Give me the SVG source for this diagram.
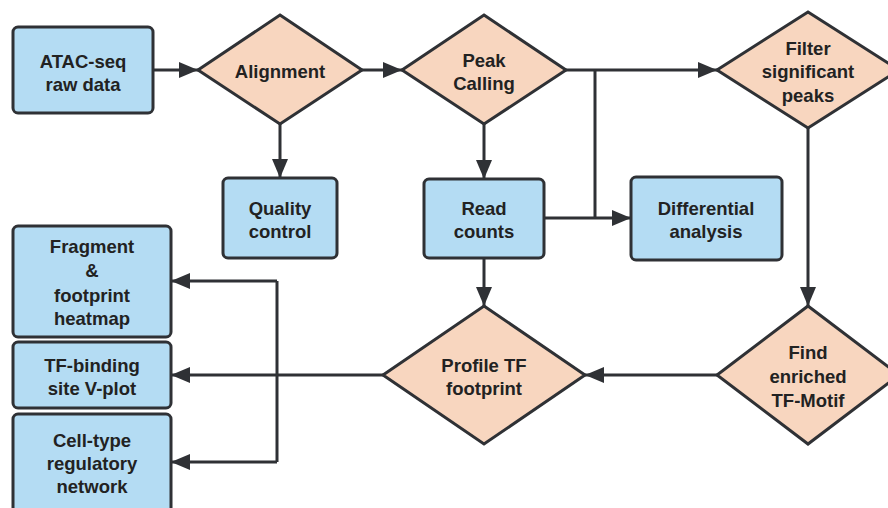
<svg xmlns="http://www.w3.org/2000/svg" width="888" height="508" viewBox="0 0 888 508">
  <defs>
    <marker id="arrow" markerUnits="userSpaceOnUse" markerWidth="20" markerHeight="16" refX="19" refY="8" orient="auto">
      <path d="M0,0 L19,8 L0,16 Z" fill="#2f3135"/>
    </marker>
    <style>
      .box { fill: #b4dcf3; stroke: #2f3135; stroke-width: 3; }
      .dia { fill: #f8d6bf; stroke: #2f3135; stroke-width: 3; stroke-linejoin: miter; }
      .lbl { font-family: "Liberation Sans", Arial, sans-serif; font-weight: bold; font-size: 18.5px; fill: #222; text-anchor: middle; }
      .edge { fill: none; stroke: #2f3135; stroke-width: 3; }
    </style>
  </defs>
  <rect width="888" height="508" fill="#ffffff"/>

  <!-- connectors -->
  <g id="connectors">
    <line class="edge" x1="153" y1="70" x2="198" y2="70" marker-end="url(#arrow)"/>
    <line class="edge" x1="362" y1="70" x2="402" y2="70" marker-end="url(#arrow)"/>
    <line class="edge" x1="280" y1="124" x2="280" y2="178" marker-end="url(#arrow)"/>
    <line class="edge" x1="566" y1="70" x2="717" y2="70" marker-end="url(#arrow)"/>
    <line class="edge" x1="484" y1="124" x2="484" y2="179" marker-end="url(#arrow)"/>
    <polyline class="edge" points="595,70 595,218"/>
    <line class="edge" x1="544" y1="218" x2="631" y2="218" marker-end="url(#arrow)"/>
    <line class="edge" x1="808" y1="128" x2="808" y2="306" marker-end="url(#arrow)"/>
    <line class="edge" x1="484" y1="258" x2="484" y2="306" marker-end="url(#arrow)"/>
    <line class="edge" x1="717" y1="375" x2="585" y2="375" marker-end="url(#arrow)"/>
    <line class="edge" x1="383" y1="375" x2="171" y2="375" marker-end="url(#arrow)"/>
    <polyline class="edge" points="277,281 277,462"/>
    <line class="edge" x1="277" y1="281" x2="171" y2="281" marker-end="url(#arrow)"/>
    <line class="edge" x1="277" y1="462" x2="171" y2="462" marker-end="url(#arrow)"/>
  </g>

  <!-- nodes -->
  <g id="atac-raw">
    <rect class="box" x="13" y="27" width="140" height="86" rx="5"/>
    <text class="lbl" x="83" y="68">ATAC-seq</text>
    <text class="lbl" x="83" y="91">raw data</text>
  </g>
  <g id="alignment">
    <polygon class="dia" points="280,15 362,70 280,124 198,70"/>
    <text class="lbl" x="280" y="78">Alignment</text>
  </g>
  <g id="peak-calling">
    <polygon class="dia" points="484,15 566,70 484,124 402,70"/>
    <text class="lbl" x="484" y="67">Peak</text>
    <text class="lbl" x="484" y="90">Calling</text>
  </g>
  <g id="filter-peaks">
    <polygon class="dia" points="808,12 899,70 808,128 717,70"/>
    <text class="lbl" x="808" y="55">Filter</text>
    <text class="lbl" x="808" y="78">significant</text>
    <text class="lbl" x="808" y="102">peaks</text>
  </g>
  <g id="quality-control">
    <rect class="box" x="223" y="178" width="114" height="80" rx="5"/>
    <text class="lbl" x="280" y="215">Quality</text>
    <text class="lbl" x="280" y="238">control</text>
  </g>
  <g id="read-counts">
    <rect class="box" x="424" y="179" width="120" height="79" rx="5"/>
    <text class="lbl" x="484" y="215">Read</text>
    <text class="lbl" x="484" y="238">counts</text>
  </g>
  <g id="differential">
    <rect class="box" x="631" y="177" width="151" height="83" rx="5"/>
    <text class="lbl" x="706" y="215">Differential</text>
    <text class="lbl" x="706" y="238">analysis</text>
  </g>
  <g id="find-motif">
    <polygon class="dia" points="808,306 899,375 808,444 717,375"/>
    <text class="lbl" x="808" y="359">Find</text>
    <text class="lbl" x="808" y="383">enriched</text>
    <text class="lbl" x="808" y="407">TF-Motif</text>
  </g>
  <g id="profile-footprint">
    <polygon class="dia" points="484,306 585,375 484,444 383,375"/>
    <text class="lbl" x="484" y="372">Profile TF</text>
    <text class="lbl" x="484" y="395">footprint</text>
  </g>
  <g id="fragment-heatmap">
    <rect class="box" x="13" y="226" width="158" height="111" rx="5"/>
    <text class="lbl" x="92" y="253">Fragment</text>
    <text class="lbl" x="92" y="277">&amp;</text>
    <text class="lbl" x="92" y="302">footprint</text>
    <text class="lbl" x="92" y="325">heatmap</text>
  </g>
  <g id="vplot">
    <rect class="box" x="13" y="342" width="158" height="66" rx="5"/>
    <text class="lbl" x="92" y="372">TF-binding</text>
    <text class="lbl" x="92" y="395">site V-plot</text>
  </g>
  <g id="regulatory-network">
    <rect class="box" x="13" y="414" width="158" height="110" rx="5"/>
    <text class="lbl" x="92" y="447">Cell-type</text>
    <text class="lbl" x="92" y="470">regulatory</text>
    <text class="lbl" x="92" y="493">network</text>
  </g>
</svg>
